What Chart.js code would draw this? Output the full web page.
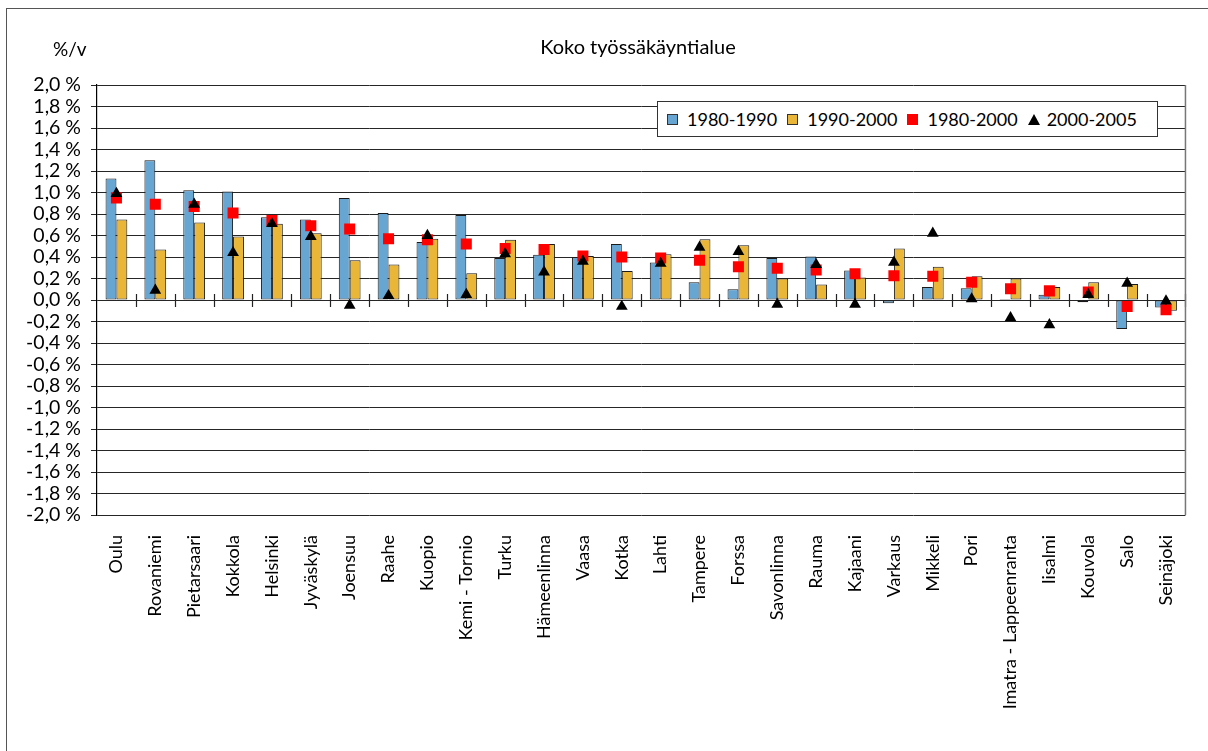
<!DOCTYPE html>
<html>
<head>
<meta charset="utf-8">
<script src="https://cdn.jsdelivr.net/npm/chart.js@4.4.1/dist/chart.umd.min.js"></script>
<style>
  html, body { margin: 0; padding: 0; background: #fff; overflow: hidden; }
  #wrap { position: relative; width: 1208px; height: 751px; font-family: Lato, "Open Sans", sans-serif; color: #000; }
  #frame { position: absolute; left: 6px; top: 8px; width: 1230px; height: 780px; border-left: 1.5px solid #555; border-top: 1.5px solid #555; }
  canvas { position: absolute; left: 0; top: 0; }
  #title { position: absolute; left: 428px; width: 420px; top: 34px; text-align: center; font-size: 20px; }
  #unit { position: absolute; left: 53px; top: 37px; font-size: 19px; }
  #legend { position: absolute; left: 657px; top: 101px; width: 490px; height: 34px; border: 1px solid #333; background: #fff;
            display: flex; align-items: center; padding-left: 9px; box-sizing: content-box; font-size: 18px; white-space: nowrap; }
  .item { display: flex; align-items: center; margin-right: 10px; flex-shrink: 0; }
  .sw { width: 11px; height: 11px; margin-right: 9px; box-sizing: border-box; flex-shrink: 0; }
  .tri { width: 0; height: 0; border-left: 6px solid transparent; border-right: 6px solid transparent; border-bottom: 11px solid #000; margin-right: 7px; flex-shrink: 0; }
</style>
</head>
<body>
<div id="wrap">
  <div id="frame"></div>
  <canvas id="c" width="1208" height="751"></canvas>
  <div id="title"></div>
  <div id="unit"></div>
  <div id="legend"></div>
</div>
<script>
const titleText = 'Koko työssäkäyntialue';
const unitText = '%/v';
const categories = ['Oulu','Rovaniemi','Pietarsaari','Kokkola','Helsinki','Jyväskylä','Joensuu','Raahe','Kuopio','Kemi - Tornio','Turku','Hämeenlinna','Vaasa','Kotka','Lahti','Tampere','Forssa','Savonlinna','Rauma','Kajaani','Varkaus','Mikkeli','Pori','Imatra - Lappeenranta','Iisalmi','Kouvola','Salo','Seinäjoki'];
const seriesLabels = ['1980-1990','1990-2000','1980-2000','2000-2005'];
const s1980_1990 = [1.13,1.30,1.02,1.01,0.77,0.75,0.95,0.81,0.54,0.79,0.39,0.42,0.40,0.52,0.35,0.165,0.10,0.39,0.405,0.275,-0.03,0.12,0.11,0.01,0.05,-0.02,-0.27,-0.07];
const s1990_2000 = [0.75,0.47,0.72,0.59,0.71,0.62,0.37,0.33,0.57,0.25,0.56,0.52,0.41,0.27,0.425,0.565,0.51,0.20,0.145,0.21,0.48,0.31,0.22,0.20,0.12,0.165,0.15,-0.10];
const s1980_2000 = [0.95,0.89,0.87,0.81,0.74,0.69,0.66,0.57,0.56,0.52,0.48,0.47,0.41,0.40,0.39,0.37,0.31,0.295,0.28,0.245,0.225,0.22,0.165,0.105,0.085,0.075,-0.06,-0.09];
const s2000_2005 = [0.99,0.09,0.89,0.44,0.71,0.59,-0.05,0.04,0.60,0.05,0.43,0.26,0.36,-0.06,0.34,0.49,0.45,-0.04,0.33,-0.04,0.35,0.62,0.01,-0.165,-0.23,0.05,0.155,-0.01];
const yMin = -2.0, yMax = 2.0, yStep = 0.2;

const BLUE = '#67A6D3', ORANGE = '#E9B638', RED = '#FF0000', BLACK = '#000000';

document.getElementById('title').textContent = titleText;
document.getElementById('unit').textContent = unitText;

const legend = document.getElementById('legend');
const legendStyles = [
  {cls: 'sw', style: 'background:' + BLUE + ';border:1px solid #333;'},
  {cls: 'sw', style: 'background:' + ORANGE + ';border:1px solid #333;'},
  {cls: 'sw', style: 'background:' + RED + ';'},
  {cls: 'tri', style: ''}
];
seriesLabels.forEach((lab, i) => {
  const it = document.createElement('div'); it.className = 'item';
  const sw = document.createElement('div'); sw.className = legendStyles[i].cls; sw.style.cssText = legendStyles[i].style;
  const tx = document.createElement('span'); tx.textContent = lab;
  it.appendChild(sw); it.appendChild(tx); legend.appendChild(it);
});

const fmt = v => { if (Math.abs(v) < 1e-9) v = 0; return v.toFixed(1).replace('.', ',') + ' %'; };

const extras = {
  id: 'extras',
  afterDraw(chart) {
    const {ctx, chartArea} = chart;
    const x = chart.scales.x, y = chart.scales.y;
    const y0 = y.getPixelForValue(0);
    ctx.save();
    ctx.strokeStyle = '#222';
    ctx.lineWidth = 1.2;
    for (let i = 1; i <= categories.length; i++) {
      const xb = i < categories.length ? (x.getPixelForValue(i - 1) + x.getPixelForValue(i)) / 2 : chartArea.right;
      ctx.beginPath();
      ctx.moveTo(Math.round(xb) + 0.5, y0 - 6);
      ctx.lineTo(Math.round(xb) + 0.5, y0 + 7);
      ctx.stroke();
    }
    ctx.strokeStyle = '#777';
    ctx.lineWidth = 1.5;
    ctx.beginPath();
    ctx.moveTo(chartArea.right, chartArea.top);
    ctx.lineTo(chartArea.right, chartArea.bottom);
    ctx.stroke();
    ctx.restore();
  }
};

new Chart(document.getElementById('c'), {
  data: {
    labels: categories,
    datasets: [
      {type: 'bar', label: seriesLabels[0], data: s1980_1990, backgroundColor: BLUE, borderColor: '#1a1a1a', borderWidth: 1, borderSkipped: false, order: 2},
      {type: 'bar', label: seriesLabels[1], data: s1990_2000, backgroundColor: ORANGE, borderColor: '#1a1a1a', borderWidth: 1, borderSkipped: false, order: 2},
      {type: 'line', label: seriesLabels[2], data: s1980_2000, showLine: false, pointStyle: 'rect', pointRadius: 7.8, pointHoverRadius: 7.8, pointBackgroundColor: RED, pointBorderWidth: 0, order: 1},
      {type: 'line', label: seriesLabels[3], data: s2000_2005, showLine: false, pointStyle: 'triangle', pointRadius: 6.8, pointHoverRadius: 6.8, pointBackgroundColor: BLACK, pointBorderWidth: 0, order: 0}
    ]
  },
  options: {
    responsive: false,
    animation: false,
    events: [],
    datasets: { bar: { categoryPercentage: 0.56, barPercentage: 1.0 } },
    layout: { padding: { left: 8, top: 85, right: 21, bottom: 0 } },
    plugins: { legend: { display: false }, title: { display: false }, tooltip: { enabled: false } },
    scales: {
      x: {
        type: 'category',
        offset: true,
        grid: { display: false, drawTicks: false },
        border: { display: false },
        ticks: { minRotation: 90, maxRotation: 90, autoSkip: false, padding: 20, color: '#000', font: { family: 'Lato', size: 18 } },
        afterFit: s => { s.height = 236; }
      },
      y: {
        min: yMin, max: yMax,
        grid: { color: '#262626', lineWidth: 1, tickLength: 6 },
        border: { color: '#000', width: 1.2 },
        ticks: { stepSize: yStep, autoSkip: false, padding: 10, color: '#000', font: { family: 'Lato', size: 19.5 }, callback: v => fmt(v) },
        afterFit: s => { s.width = 89; }
      }
    }
  },
  plugins: [extras]
});
</script>
</body>
</html>
